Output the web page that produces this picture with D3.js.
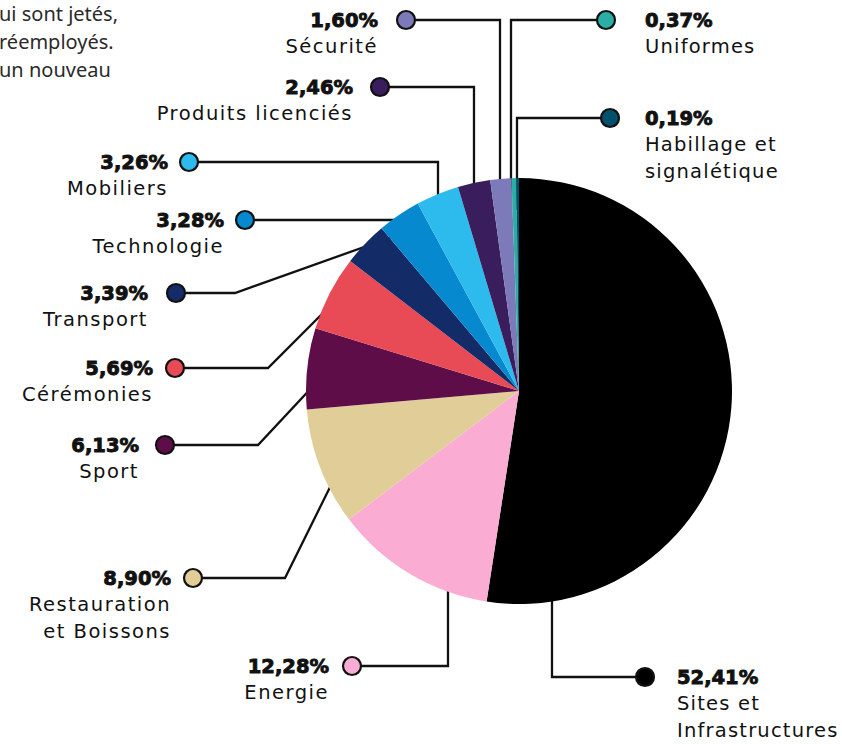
<!DOCTYPE html>
<html><head><meta charset="utf-8">
<script src="https://cdn.jsdelivr.net/npm/d3@7"></script>
<style>body{margin:0;background:#fff}svg{display:block}</style>
</head><body><svg id="chart" width="842" height="744"></svg>
<script>
// ---- data ----
const categories = ["Sites et Infrastructures","Energie","Restauration et Boissons","Sport","Cérémonies","Transport","Technologie","Mobiliers","Produits licenciés","Sécurité","Uniformes","Habillage et signalétique"];
const nameLines = [["Sites et","Infrastructures"],["Energie"],["Restauration","et Boissons"],["Sport"],["Cérémonies"],["Transport"],["Technologie"],["Mobiliers"],["Produits licenciés"],["Sécurité"],["Uniformes"],["Habillage et","signalétique"]];
const values = [52.41,12.28,8.90,6.13,5.69,3.39,3.28,3.26,2.46,1.60,0.37,0.19];
const colors = ["#000000","#FBACD2","#E1CD98","#5E0D48","#E84B55","#132B67","#0789CF","#2DBBEE","#3A1D5C","#7C7AB9","#2AAEA5","#02506B"];
const introLines = ["ui sont jetés,","réemployés.","un nouveau"];

// ---- layout (label placement) ----
const labelLayout = [
  {dot:[645,677], side:"right", tx:677, pts:[[552,677],[552,560]]},
  {dot:[352,666], side:"left",  tx:329, pts:[[448,666],[448,560]]},
  {dot:[193,578], side:"left",  tx:171, pts:[[285,578],[340,467]]},
  {dot:[165,445], side:"left",  tx:139, pts:[[258,445],[330,368]]},
  {dot:[175,368], side:"left",  tx:153, pts:[[268,368],[340,296]]},
  {dot:[176,293], side:"left",  tx:148, pts:[[235,293],[395,236]]},
  {dot:[245,220], side:"left",  tx:224, pts:[[410,220]]},
  {dot:[189,162], side:"left",  tx:168, pts:[[438,162],[438,230]]},
  {dot:[380,87],  side:"left",  tx:353, pts:[[474,87],[474,210]]},
  {dot:[406,20],  side:"left",  tx:378, pts:[[500,20],[500,210]]},
  {dot:[606,20],  side:"right", tx:645, pts:[[511,20],[511,210]]},
  {dot:[610,118], side:"right", tx:645, pts:[[517,118],[517,210]]}
];

const svg = d3.select("#chart");
const cx = 519, cy = 391, R = 213;
const fmt = v => d3.format(".2f")(v).replace(".", ",") + "%";

// intro paragraph fragment
svg.append("g").selectAll("text").data(introLines).join("text")
  .attr("x", -1).attr("y", (d,i) => 21 + i*28)
  .attr("font-family", "'Noto Sans', sans-serif").attr("font-size", 20)
  .attr("fill", "#2a2a2a").text(d => d);

const data = categories.map((c,i) => ({name:c, value:values[i], color:colors[i], lines:nameLines[i], lay:labelLayout[i]}));

// leader lines (under the pie)
const line = d3.line();
svg.append("g").selectAll("path").data(data).join("path")
  .attr("d", d => line([d.lay.dot, ...d.lay.pts]))
  .attr("fill", "none").attr("stroke", "#111").attr("stroke-width", 2.3)
  .attr("stroke-linejoin", "miter");

// pie
const pie = d3.pie().value(d => d.value).sort(null).startAngle(0).endAngle(2*Math.PI);
const arc = d3.arc().innerRadius(0).outerRadius(R);
svg.append("g").attr("transform", `translate(${cx},${cy})`)
  .selectAll("path").data(pie(data)).join("path")
  .attr("d", arc).attr("fill", d => d.data.color);

// dots
svg.append("g").selectAll("circle").data(data).join("circle")
  .attr("cx", d => d.lay.dot[0]).attr("cy", d => d.lay.dot[1]).attr("r", 9)
  .attr("fill", d => d.color).attr("stroke", "#111").attr("stroke-width", 2.2);

// labels
const lab = svg.append("g").selectAll("g").data(data).join("g");
lab.append("text")
  .attr("x", d => d.lay.tx).attr("y", d => d.lay.dot[1] + 7)
  .attr("text-anchor", d => d.lay.side === "left" ? "end" : "start")
  .attr("font-family", "'DejaVu Sans', sans-serif").attr("font-weight", "bold")
  .attr("font-size", 19.5).attr("fill", "#111").attr("stroke", "#111").attr("stroke-width", 0.9)
  .text(d => fmt(d.value));
lab.each(function(d){
  d3.select(this).selectAll("text.nm").data(d.lines).join("text").attr("class","nm")
    .attr("x", d.lay.tx).attr("y", (t,i) => d.lay.dot[1] + 33 + i*26.5)
    .attr("text-anchor", d.lay.side === "left" ? "end" : "start")
    .attr("font-family", "'DejaVu Sans', sans-serif").attr("font-size", 19.5)
    .attr("letter-spacing", d.lay.side === "left" ? 1.5 : 1.2).attr("fill", "#111")
    .text(t => t);
});
</script></body></html>
